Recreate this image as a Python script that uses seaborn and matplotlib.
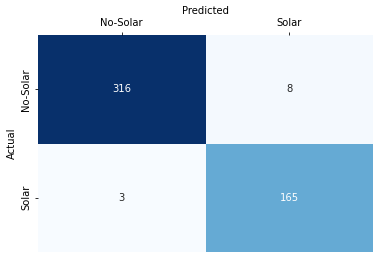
import numpy as np
import pandas as pd
import matplotlib
matplotlib.use("Agg")
import matplotlib.pyplot as plt
import seaborn as sns

labels = ["No-Solar", "Solar"]
row_nosolar = [316, 8]
row_solar = [3, 165]

cm = pd.DataFrame([row_nosolar, row_solar], index=labels, columns=labels)

fig = plt.figure(figsize=(380/72, 260/72), dpi=72)
ax = fig.add_axes([38/380, 1-252/260, (373-38)/380, (252-35)/260])
sns.heatmap(cm, annot=True, fmt="d", cmap="Blues", cbar=False, ax=ax,
            annot_kws={"fontsize": 10})
ax.xaxis.tick_top()
ax.xaxis.set_label_position("top")
ax.set_xlabel("Predicted", fontsize=10)
ax.set_ylabel("Actual", fontsize=10)
ax.tick_params(labelsize=10)
plt.setp(ax.get_yticklabels(), rotation=90, va="center")
fig.savefig("out.png", dpi=72)
